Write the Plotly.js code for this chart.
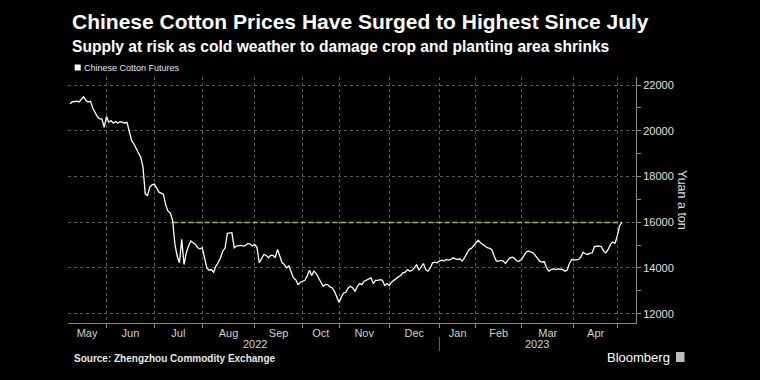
<!DOCTYPE html>
<html>
<head>
<meta charset="utf-8">
<script src="https://cdn.plot.ly/plotly-3.0.1.min.js"></script>
<style>
  html, body { margin: 0; padding: 0; background: #000; }
  #chart { width: 760px; height: 380px; }
</style>
</head>
<body>
<div id="chart"></div>
<script>
// Trading days (Zhengzhou Commodity Exchange) and settlement prices, yuan a ton
const dates = [
  "2022-05-10","2022-05-11","2022-05-13","2022-05-16","2022-05-17","2022-05-18","2022-05-19","2022-05-20","2022-05-23","2022-05-24","2022-05-26","2022-05-27","2022-05-30","2022-05-31",
  "2022-06-01","2022-06-02","2022-06-06","2022-06-07","2022-06-08","2022-06-09","2022-06-10","2022-06-14","2022-06-15","2022-06-16","2022-06-17","2022-06-20","2022-06-21","2022-06-22","2022-06-23","2022-06-24","2022-06-27","2022-06-28","2022-06-29","2022-06-30",
  "2022-07-01","2022-07-04","2022-07-05","2022-07-06","2022-07-07","2022-07-08","2022-07-11","2022-07-12","2022-07-13","2022-07-14","2022-07-15","2022-07-18","2022-07-19","2022-07-20","2022-07-21","2022-07-22","2022-07-25","2022-07-26","2022-07-27","2022-07-28","2022-07-29",
  "2022-08-01","2022-08-02","2022-08-03","2022-08-04","2022-08-05","2022-08-08","2022-08-09","2022-08-10","2022-08-11","2022-08-12","2022-08-15","2022-08-16","2022-08-17","2022-08-18","2022-08-19","2022-08-22","2022-08-24","2022-08-25","2022-08-26","2022-08-29","2022-08-30","2022-08-31",
  "2022-09-01","2022-09-02","2022-09-05","2022-09-06","2022-09-07","2022-09-08","2022-09-09","2022-09-13","2022-09-14","2022-09-15","2022-09-16","2022-09-19","2022-09-20","2022-09-21","2022-09-22","2022-09-23","2022-09-26","2022-09-27","2022-09-28","2022-09-29","2022-09-30",
  "2022-10-10","2022-10-11","2022-10-12","2022-10-13","2022-10-14","2022-10-17","2022-10-18","2022-10-19","2022-10-20","2022-10-21","2022-10-24","2022-10-25","2022-10-26","2022-10-27","2022-10-28","2022-10-31",
  "2022-11-01","2022-11-02","2022-11-03","2022-11-04","2022-11-07","2022-11-08","2022-11-09","2022-11-10","2022-11-11","2022-11-14","2022-11-15","2022-11-16","2022-11-17","2022-11-18","2022-11-21","2022-11-22","2022-11-23","2022-11-24","2022-11-25","2022-11-28","2022-11-29","2022-11-30",
  "2022-12-01","2022-12-02","2022-12-05","2022-12-06","2022-12-07","2022-12-08","2022-12-09","2022-12-12","2022-12-13","2022-12-14","2022-12-15","2022-12-16","2022-12-19","2022-12-20","2022-12-21","2022-12-22","2022-12-23","2022-12-26","2022-12-27","2022-12-28","2022-12-29","2022-12-30",
  "2023-01-03","2023-01-04","2023-01-05","2023-01-06","2023-01-09","2023-01-10","2023-01-11","2023-01-12","2023-01-13","2023-01-16","2023-01-17","2023-01-18","2023-01-19","2023-01-20","2023-01-30","2023-01-31",
  "2023-02-01","2023-02-02","2023-02-03","2023-02-06","2023-02-07","2023-02-08","2023-02-09","2023-02-10","2023-02-13","2023-02-14","2023-02-15","2023-02-16","2023-02-17","2023-02-20","2023-02-21","2023-02-22","2023-02-23","2023-02-24","2023-02-27","2023-02-28",
  "2023-03-01","2023-03-02","2023-03-03","2023-03-06","2023-03-07","2023-03-08","2023-03-09","2023-03-10","2023-03-13","2023-03-14","2023-03-15","2023-03-16","2023-03-17","2023-03-20","2023-03-21","2023-03-22","2023-03-23","2023-03-24","2023-03-27","2023-03-28","2023-03-29","2023-03-30","2023-03-31",
  "2023-04-03","2023-04-04","2023-04-06","2023-04-07","2023-04-10","2023-04-11","2023-04-12","2023-04-13","2023-04-14","2023-04-17","2023-04-18","2023-04-19","2023-04-20","2023-04-21","2023-04-24","2023-04-25","2023-04-26","2023-04-27","2023-04-28",
  "2023-05-04","2023-05-05","2023-05-08"
];
const prices = [
  21175,21260,21290,21260,21380,21480,21325,21260,21290,20985,20620,20515,20515,20150,
  20620,20370,20445,20330,20400,20330,20400,20340,20370,20010,19575,19430,19210,19025,18850,18410,17240,17170,17535,17635,
  17665,17460,17315,17270,17215,16735,16485,16395,16075,15040,14520,14225,15250,14150,14665,14960,15180,15105,15030,14885,14840,
  14885,14445,14005,13900,13930,13815,14080,14240,14445,14740,14870,15515,15515,15545,14885,14960,14990,14960,14990,15075,15045,14960,
  15030,14900,14225,14445,14590,14550,14445,14550,14550,14445,14810,14520,14225,14150,14005,14080,13785,13565,13490,13270,13375,
  13420,13460,13640,13900,13670,13860,13755,13565,13420,13200,13270,13270,13170,13125,12975,12755,
  12490,12730,12905,12935,13125,13200,13125,12975,13200,13315,13270,13420,13460,13520,13565,13315,13460,13460,13490,13460,13230,13315,
  13230,13375,13460,13520,13610,13670,13785,13815,13930,13860,13900,14005,14150,13900,14080,14195,13930,13860,14005,14225,14255,14225,
  14300,14340,14300,14370,14340,14370,14445,14415,14370,14400,14300,14445,14635,14810,14855,14960,
  15105,15210,15105,15030,14960,14885,14855,14800,14520,14300,14300,14330,14300,14195,14340,14445,14475,14415,14300,14300,
  14370,14520,14690,14740,14690,14665,14550,14400,14300,14260,14270,14005,13860,13930,13960,13930,13960,13945,13930,13860,13900,14195,14370,
  14340,14340,14370,14475,14690,14620,14590,14635,14665,14930,14960,14960,14930,14740,14665,14810,15030,15135,15075,
  15400,15840,15985
];
// Exchange holidays removed from the time axis
const holidays = ["2022-06-03","2022-09-12","2022-10-03","2022-10-04","2022-10-05","2022-10-06","2022-10-07",
  "2023-01-02","2023-01-23","2023-01-24","2023-01-25","2023-01-26","2023-01-27","2023-04-05",
  "2023-05-01","2023-05-02","2023-05-03"];
// First trading day of each month (grid lines)
const monthStarts = ["2022-06-01","2022-07-01","2022-08-01","2022-09-01","2022-10-10","2022-11-01","2022-12-01",
  "2023-01-03","2023-02-01","2023-03-01","2023-04-03","2023-05-04"];
// Month label positions (mid-month) and labels
const monthMids = ["2022-05-19 12:00","2022-06-16 12:00","2022-07-15 12:00","2022-08-16 12:00","2022-09-16 12:00",
  "2022-10-20","2022-11-16","2022-12-16","2023-01-13","2023-02-15","2023-03-16 12:00","2023-04-17 12:00"];
const monthLabels = ["May","Jun","Jul","Aug","Sep","Oct","Nov","Dec","Jan","Feb","Mar","Apr"];
const yearLabels = ["2022","2023"];
const yearPositions = ["2022-09-01","2023-03-10"];
const yearBoundary = "2023-01-03";
// Reference level: latest price, dashed back to July
const levelStart = "2022-07-13";
const levelValue = prices[prices.length - 1];
const levelEnd = dates[dates.length - 1];

const FONT = "Liberation Sans, Arial, sans-serif";

const traces = [
  {
    x: [levelStart, levelEnd], y: [levelValue, levelValue],
    type: "scatter", mode: "lines",
    line: { color: "#8dc63f", width: 1.6, dash: "5px,3px" },
    hoverinfo: "skip", showlegend: false
  },
  {
    x: dates, y: prices, name: "Chinese Cotton Futures",
    type: "scatter", mode: "lines",
    line: { color: "#ffffff", width: 1.3 },
    showlegend: false
  }
];

const L = 68, R = 636, T = 77, B = 323;
const px = v => (v - L) / (R - L);
const py = v => (B - v) / (B - T);

const layout = {
  width: 760, height: 380,
  paper_bgcolor: "#000", plot_bgcolor: "#000",
  margin: { l: L, r: 760 - R, t: T, b: 380 - B },
  font: { family: FONT, color: "#dcdcdc", size: 11 },
  showlegend: false,
  xaxis: {
    type: "date",
    range: ["2022-05-09 03:00", "2023-05-16 05:00"],
    rangebreaks: [{ bounds: ["sat", "mon"] }, { values: holidays }],
    tickmode: "array", tickvals: monthMids, ticktext: monthLabels,
    ticks: "", showgrid: false, zeroline: false,
    showline: true, linecolor: "#8a8a8a", linewidth: 1,
    tickfont: { family: FONT, size: 11, color: "#d0d0d0" },
    minor: {
      tickmode: "array", tickvals: monthStarts,
      ticks: "outside", ticklen: 4, tickcolor: "#8a8a8a", tickwidth: 1,
      showgrid: true, gridcolor: "#5a5a5a", griddash: "dot", gridwidth: 1
    },
    fixedrange: true
  },
  yaxis: {
    side: "right",
    range: [11593, 22350],
    tickmode: "linear", tick0: 0, dtick: 2000,
    ticks: "outside", ticklen: 4, tickcolor: "#8a8a8a",
    showgrid: true, gridcolor: "#5a5a5a", griddash: "dot", gridwidth: 1,
    zeroline: false,
    showline: true, linecolor: "#8a8a8a", linewidth: 1,
    tickfont: { family: FONT, size: 11, color: "#e0e0e0" },
    tickformat: "d",
    minor: { dtick: 1000, ticks: "outside", ticklen: 4, tickcolor: "#8a8a8a", showgrid: false },
    fixedrange: true
  },
  shapes: [
    { type: "rect", xref: "paper", yref: "paper",
      x0: px(74.7), x1: px(80.7), y0: py(70.5), y1: py(64.5),
      fillcolor: "#ffffff", line: { width: 0 } },
    { type: "line", xref: "x", yref: "paper",
      x0: yearBoundary, x1: yearBoundary, y0: py(337), y1: py(351),
      line: { color: "#6a6a6a", width: 1 } },
    { type: "rect", xref: "paper", yref: "paper",
      x0: px(676), x1: px(684.5), y0: py(362), y1: py(352),
      fillcolor: "#bdbdbd", line: { width: 0 } }
  ],
  annotations: [
    { xref: "paper", yref: "paper", x: px(70), y: py(22), xanchor: "left", yanchor: "middle",
      text: "<b>Chinese Cotton Prices Have Surged to Highest Since July</b>", showarrow: false,
      font: { family: FONT, size: 21, color: "#ffffff" } },
    { xref: "paper", yref: "paper", x: px(70), y: py(47), xanchor: "left", yanchor: "middle",
      text: "<b>Supply at risk as cold weather to damage crop and planting area shrinks</b>", showarrow: false,
      font: { family: FONT, size: 15.6, color: "#ffffff" } },
    { xref: "paper", yref: "paper", x: px(81.5), y: py(67.5), xanchor: "left", yanchor: "middle",
      text: "Chinese Cotton Futures", showarrow: false,
      font: { family: FONT, size: 9, color: "#e6e6e6" } },
    { xref: "paper", yref: "paper", x: px(682), y: 0.5, xanchor: "center", yanchor: "middle",
      text: "Yuan a ton", textangle: 90, showarrow: false,
      font: { family: FONT, size: 12.5, color: "#dcdcdc" } },
    { xref: "x", yref: "paper", x: yearPositions[0], y: py(344), xanchor: "center", yanchor: "middle",
      text: yearLabels[0], showarrow: false, font: { family: FONT, size: 11, color: "#d0d0d0" } },
    { xref: "x", yref: "paper", x: yearPositions[1], y: py(344), xanchor: "center", yanchor: "middle",
      text: yearLabels[1], showarrow: false, font: { family: FONT, size: 11, color: "#d0d0d0" } },
    { xref: "paper", yref: "paper", x: px(72), y: py(358), xanchor: "left", yanchor: "middle",
      text: "<b>Source: Zhengzhou Commodity Exchange</b>", showarrow: false,
      font: { family: FONT, size: 10, color: "#e6e6e6" } },
    { xref: "paper", yref: "paper", x: px(672), y: py(357), xanchor: "right", yanchor: "middle",
      text: "Bloomberg", showarrow: false,
      font: { family: FONT, size: 13, color: "#ffffff" } }
  ]
};

Plotly.newPlot("chart", traces, layout, { staticPlot: true, displayModeBar: false });
</script>
</body>
</html>
